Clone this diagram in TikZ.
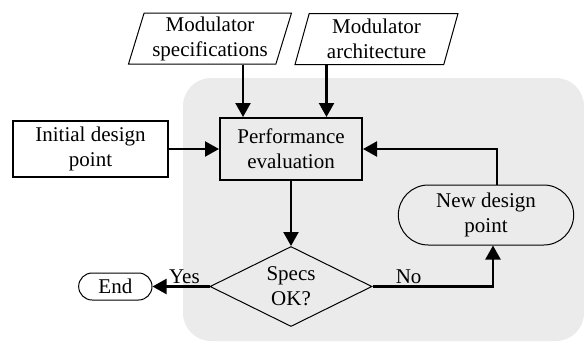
\documentclass[tikz,border=0pt]{standalone}
\usepackage{fontspec}
\setmainfont{Liberation Serif}
\usetikzlibrary{positioning,shapes.geometric,shapes.misc,arrows.meta}
\definecolor{loopgray}{RGB}{235,235,235}

\begin{document}
\begin{tikzpicture}[
    x=1pt,y=-1pt,
    font=\fontsize{21}{25}\selectfont,
    inputnode/.style={trapezium, trapezium left angle=72, trapezium right angle=108, trapezium stretches body, draw, line width=1pt, minimum width=163pt, minimum height=51pt, align=center, inner sep=2pt},
    boxnode/.style={rectangle, draw, line width=2pt, align=center},
    termnode/.style={rounded rectangle, draw, line width=1pt, align=center, inner ysep=3pt},
    decnode/.style={diamond, draw, line width=1pt, align=center, aspect=2, inner sep=0pt, minimum width=162pt, minimum height=80pt},
    arr/.style={-{Triangle[length=14pt,width=15pt]}, line width=2.2pt},
    ]
%Background
\useasboundingbox (0,0) rectangle (584,341);
\fill[loopgray, rounded corners=28pt] (183,78) rectangle (584,341);

%Nodes
\node[boxnode, minimum width=142pt, minimum height=62pt] (perf) at (291,149) {Performance\\evaluation};
\node[boxnode, minimum width=155pt, minimum height=56pt] (init) [left=50pt of perf] {Initial design\\point};
\node[inputnode] (spec) at (210,38.5) {Modulator\\specifications};
\node[inputnode] (arch) at (376.5,39) {Modulator\\architecture};
\node[decnode] (dec) [below=65pt of perf] {Specs\\OK?};
\node[termnode, minimum width=80pt, minimum height=27pt] (end) [left=57pt of dec] {End};
\node[termnode, minimum width=182pt, minimum height=60pt] (newpt) at (486,215) {New design\\point};

%Lines
\draw[arr] ([xshift=33pt]spec.south) -- ([xshift=33pt]spec.south |- perf.north);
\draw[arr] ([xshift=-50pt]arch.south) -- ([xshift=-50pt]arch.south |- perf.north);
\draw[arr] (init) -- (perf);
\draw[arr] (perf) -- (dec);
\draw[arr] (dec.west) -- node[above, pos=0.44, inner sep=2pt]{Yes} (end.east);
\draw[arr] (dec.east) -| node[above, pos=0.15, inner sep=2pt]{No} ([xshift=7pt]newpt.south);
\draw[arr] ([xshift=11pt]newpt.north) |- (perf.east);
\end{tikzpicture}
\end{document}
